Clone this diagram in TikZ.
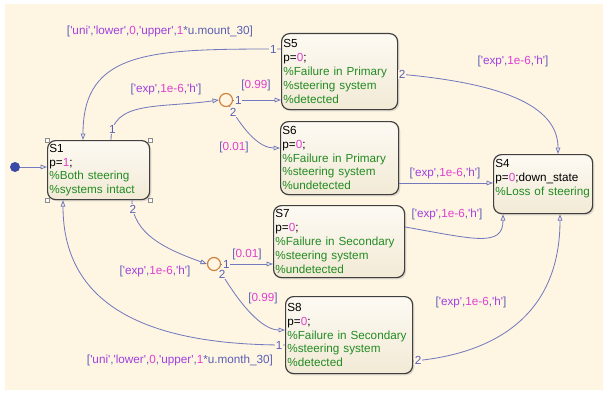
\documentclass[tikz,border=0pt]{standalone}
\usepackage{fontspec}
\setmainfont{Liberation Sans}[Ligatures=TeXOff]
\usetikzlibrary{calc,positioning,arrows.meta,shadows}
\definecolor{bgcol}{HTML}{FEF5E3}
\definecolor{edgecol}{HTML}{7279BE}
\definecolor{brkcol}{HTML}{5A5FB5}
\definecolor{strcol}{HTML}{A040E0}
\definecolor{numcol}{HTML}{E040D0}
\definecolor{cmtcol}{HTML}{228B22}
\definecolor{juncol}{HTML}{D08038}
\definecolor{initcol}{HTML}{3B4BA5}
\definecolor{boxtop}{HTML}{FDFAF3}
\definecolor{boxbot}{HTML}{F2EAD6}
\newcommand{\tstr}[1]{\textcolor{strcol}{#1}}
\newcommand{\tnum}[1]{\textcolor{numcol}{#1}}
\newcommand{\cmt}[1]{\textcolor{cmtcol}{#1}}
\tikzset{state/.style={draw=black!75,line width=1pt,rounded corners=2.4mm,top color=boxtop,bottom color=boxbot,
drop shadow={shadow xshift=.5mm,shadow yshift=-.5mm,opacity=.25},anchor=north west,align=left,
inner xsep=.55mm,inner ysep=0pt,font=\fontsize{10}{11.8}\selectfont},
junc/.style={circle,draw=juncol,line width=1pt,minimum size=3.9mm,inner sep=0pt}}

\begin{document}
\begin{tikzpicture}[x=0.3mm,y=-0.3mm,
tr/.style={draw=edgecol,line width=.7pt,-{Triangle[open,length=5.5pt,width=4pt]}},
lbl/.style={text=brkcol,font=\fontsize{10}{12}\selectfont,inner sep=1pt},
num/.style={text=brkcol,fill=bgcol,font=\fontsize{10}{12}\selectfont,inner sep=.6pt},
handle/.style={draw=black!45,fill=white,minimum size=1.2mm,inner sep=0pt}]
\useasboundingbox (0,0) rectangle (603,392);
\fill[bgcol] (5,4) rectangle (603,390);

% states
\node[state,text width=29.5mm,minimum height=17.7mm] (S1) at (47,140) {S1\\p=\tnum{1};\\\cmt{\%Both steering}\\\cmt{\%systems intact}};
\node[state,text width=33.7mm,minimum height=22.8mm] (S5) at (281,33) {S5\\p=\tnum{0};\\\cmt{\%Failure in Primary}\\\cmt{\%steering system}\\\cmt{\%detected}};
\node[state,text width=34.3mm,minimum height=21.9mm] (S6) at (280,121) {S6\\p=\tnum{0};\\\cmt{\%Failure in Primary}\\\cmt{\%steering system}\\\cmt{\%undetected}};
\node[state,text width=28.6mm,minimum height=17.7mm] (S4) at (493,154) {S4\\p=\tnum{0};down\_state\\\cmt{\%Loss of steering}\\\mbox{}};
\node[state,text width=38.2mm,minimum height=21.6mm] (S7) at (273,205) {S7\\p=\tnum{0};\\\cmt{\%Failure in Secondary}\\\cmt{\%steering system}\\\cmt{\%undetected}};
\node[state,text width=37mm,minimum height=23.1mm] (S8) at (285,296) {S8\\p=\tnum{0};\\\cmt{\%Failure in Secondary}\\\cmt{\%steering system}\\\cmt{\%detected}};
\foreach \c/\n in {north west/a,north east/b,south west/c,south east/d}
  \node[handle] (h\n) at (S1.\c) {};

\node[junc] (J1) at (226,100) {};
\node[junc] (J2) at (214,264) {};
\node[circle,fill=initcol,minimum size=3mm,inner sep=0pt] (init) at (15,167) {};

% transitions
\draw[tr] (init) -- ($(S1.north west)+(0,27)$);
\draw[tr] ($(S5.north west)+(0,16)$) to[out=180,in=90,out distance=39mm,in distance=27mm] node[num,pos=.02]{1} ($(S1.north west)+(36,0)$);
\draw[tr] ($(S1.north west)+(64,0)$) to[out=90,in=188,out distance=12mm,in distance=18mm] node[num,pos=.1]{1} (J1.west);
\draw[tr] (J1.east) -- node[num,pos=.11]{1} ($(S5.north west)+(0,67)$);
\draw[tr] (J1.-60) to[out=-60,in=180,out distance=9mm,in distance=6mm] node[num,pos=.08]{2} ($(S6.north west)+(0,27)$);
\draw[tr] ($(S5.north east)+(0,41)$) to[out=-5,in=90,out distance=30mm,in distance=15mm] node[num,pos=.013]{2} ($(S4.north west)+(65,0)$);
\draw[tr] ($(S6.north east)+(0,62)$) -- ($(S4.north west)+(0,29)$);
\draw[tr] ($(S7.north east)+(0,22)$) to[out=-10,in=-90,out distance=21mm,in distance=10mm] ($(S4.south west)+(10,0)$);
\draw[tr] ($(S8.north east)+(0,65)$) to[out=5,in=-90,out distance=25mm,in distance=30mm] node[num,pos=.02]{2} ($(S4.south west)+(67,0)$);
\draw[tr] ($(S1.south west)+(85,0)$) to[out=-90,in=160,out distance=10.5mm,in distance=12mm] node[num,pos=.09]{2} (J2.west);
\draw[tr] (J2.east) -- node[num,pos=.1]{1} ($(S7.north west)+(0,59)$);
\draw[tr] (J2.-45) to[out=-60,in=180,out distance=12mm,in distance=7mm] node[num,pos=.05]{2} ($(S8.north west)+(0,34)$);
\draw[tr] ($(S8.north west)+(0,49)$) to[out=180,in=-90,out distance=39mm,in distance=33mm] node[num,pos=.015]{1} ($(S1.south west)+(16,0)$);

% labels
\node[lbl] (t1) at (160,31) {[\tstr{'uni'},\tstr{'lower'},\tnum{0},\tstr{'upper'},\tnum{1}*u.mount\_30]};
\node[lbl] (t2) at (166,89) {[\tstr{'exp'},\tnum{1e-6},\tstr{'h'}]};
\node[lbl] (t3) at (256,85) {[\tnum{0.99}]};
\node[lbl] (t4) at (234,147) {[\tnum{0.01}]};
\node[lbl] (t5) at (513,61) {[\tstr{'exp'},\tnum{1e-6},\tstr{'h'}]};
\node[lbl] (t6) at (445,173) {[\tstr{'exp'},\tnum{1e-6},\tstr{'h'}]};
\node[lbl] (t7) at (447,214) {[\tstr{'exp'},\tnum{1e-6},\tstr{'h'}]};
\node[lbl] (t8) at (471,302) {[\tstr{'exp'},\tnum{1e-6},\tstr{'h'}]};
\node[lbl] (t9) at (155,271) {[\tstr{'exp'},\tnum{1e-6},\tstr{'h'}]};
\node[lbl] (t10) at (247,254) {[\tnum{0.01}]};
\node[lbl] (t11) at (263,298) {[\tnum{0.99}]};
\node[lbl] (t12) at (180,360) {[\tstr{'uni'},\tstr{'lower'},\tnum{0},\tstr{'upper'},\tnum{1}*u.month\_30]};
\end{tikzpicture}
\end{document}
